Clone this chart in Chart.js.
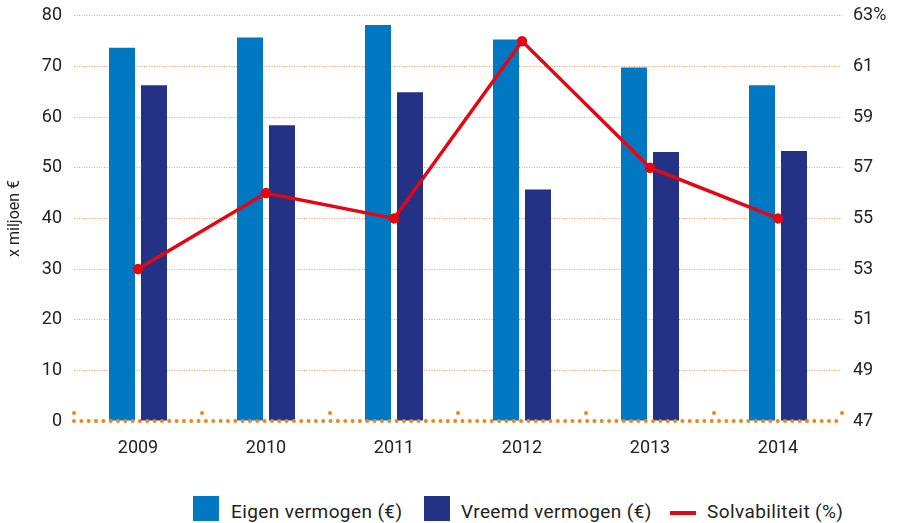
<!DOCTYPE html>
<html>
<head>
<meta charset="utf-8">
<script src="https://cdn.jsdelivr.net/npm/chart.js@4/dist/chart.umd.min.js"></script>
<style>
  body { margin: 0; background: #fff; }
  #wrap { position: relative; width: 897px; height: 523px; overflow: hidden; font-family: Roboto, "Noto Sans", sans-serif; }
  #chart { position: absolute; left: 0; top: -7px; }
  .lg { position: absolute; font-size: 19px; letter-spacing: 0.4px; color: #222; white-space: nowrap; line-height: 1; }
  .sw { position: absolute; }
</style>
</head>
<body>
<div id="wrap">
  <canvas id="chart" width="897" height="487"></canvas>
  <div class="sw" id="sw1" style="left:193px;top:496px;width:26px;height:25px;"></div>
  <div class="lg" id="lg1" style="left:231px;top:502px;"></div>
  <div class="sw" id="sw2" style="left:424px;top:496px;width:26px;height:25px;"></div>
  <div class="lg" id="lg2" style="left:461px;top:502px;"></div>
  <div class="sw" id="sw3" style="left:670px;top:511px;width:26px;height:4px;"></div>
  <div class="lg" id="lg3" style="left:707px;top:502px;"></div>
</div>
<script>
const years = ["2009", "2010", "2011", "2012", "2013", "2014"];
const eigenVermogen = [73.7, 75.7, 78.2, 75.3, 69.8, 66.3];
const vreemdVermogen = [66.3, 58.4, 64.9, 45.7, 53.1, 53.3];
const solvabiliteit = [53.0, 56.0, 55.0, 62.0, 57.0, 55.0];
const seriesLabels = ["Eigen vermogen (€)", "Vreemd vermogen (€)", "Solvabiliteit (%)"];
const seriesColors = ["#0079c2", "#233285", "#e30613"];

const gridOrange = "#f4a060";
const baseOrange = "#f08519";

// legend as html
["lg1", "lg2", "lg3"].forEach((id, i) => { document.getElementById(id).textContent = seriesLabels[i]; });
["sw1", "sw2", "sw3"].forEach((id, i) => { document.getElementById(id).style.background = seriesColors[i]; });

const baselinePlugin = {
    id: "baseline",
    afterDatasetsDraw(chart) {
        const { ctx, chartArea, scales } = chart;
        const y0 = scales.y.getPixelForValue(0);
        ctx.save();
        ctx.strokeStyle = baseOrange;
        ctx.fillStyle = baseOrange;
        ctx.lineCap = "round";
        ctx.lineWidth = 4;
        ctx.setLineDash([0, 7.33]);
        ctx.beginPath();
        ctx.moveTo(chartArea.left, y0);
        ctx.lineTo(chartArea.right, y0);
        ctx.stroke();
        ctx.setLineDash([]);
        // small dots at category boundaries
        const half = (scales.x.getPixelForValue(1) - scales.x.getPixelForValue(0)) / 2;
        for (let i = 0; i <= years.length; i++) {
            const x = i < years.length ? scales.x.getPixelForValue(i) - half : scales.x.getPixelForValue(years.length - 1) + half;
            ctx.beginPath();
            ctx.arc(x, y0 - 8, 2, 0, Math.PI * 2);
            ctx.fill();
        }
        ctx.restore();
    }
};

Chart.defaults.font.family = "Roboto, 'Noto Sans', sans-serif";
Chart.defaults.color = "#222";

new Chart(document.getElementById("chart"), {
    type: "bar",
    data: {
        labels: years,
        datasets: [
            { label: seriesLabels[0], data: eigenVermogen, backgroundColor: seriesColors[0], yAxisID: "y", order: 2,
              categoryPercentage: 0.5, barPercentage: 0.8125 },
            { label: seriesLabels[1], data: vreemdVermogen, backgroundColor: seriesColors[1], yAxisID: "y", order: 2,
              categoryPercentage: 0.5, barPercentage: 0.8125 },
            { type: "line", label: seriesLabels[2], data: solvabiliteit, borderColor: seriesColors[2], backgroundColor: seriesColors[2],
              borderWidth: 3.5, pointRadius: 3.5, pointHoverRadius: 3.5, tension: 0, yAxisID: "y1", order: 0 }
        ]
    },
    options: {
        responsive: false,
        animation: false,
        layout: { padding: { top: 6, left: 0, right: 0, bottom: 0 } },
        plugins: { legend: { display: false }, tooltip: { enabled: false } },
        scales: {
            x: {
                grid: { display: false },
                border: { display: false },
                ticks: { padding: 9, font: { size: 18 }, color: "#222" },
                afterFit: (s) => { s.height = 59; }
            },
            y: {
                position: "left",
                min: 0, max: 80,
                ticks: { stepSize: 10, padding: 12, font: { size: 18 }, color: "#222" },
                grid: {
                    drawTicks: false,
                    lineWidth: 1,
                    color: (c) => c.tick && c.tick.value === 0 ? "rgba(0,0,0,0)" : gridOrange
                },
                border: { display: false, dash: [1, 1.5] },
                title: { display: true, text: "x miljoen €", font: { size: 16 }, color: "#222", padding: { top: 5, bottom: 0 } },
                afterFit: (s) => { s.width = 74; }
            },
            y1: {
                position: "right",
                min: 47, max: 63,
                ticks: { stepSize: 2, padding: 11, font: { size: 18 }, color: "#222",
                         callback: (v) => v === 63 ? v + "%" : v },
                grid: { drawOnChartArea: false, drawTicks: false },
                border: { display: false },
                afterFit: (s) => { s.width = 55; }
            }
        }
    },
    plugins: [baselinePlugin]
});
</script>
</body>
</html>
